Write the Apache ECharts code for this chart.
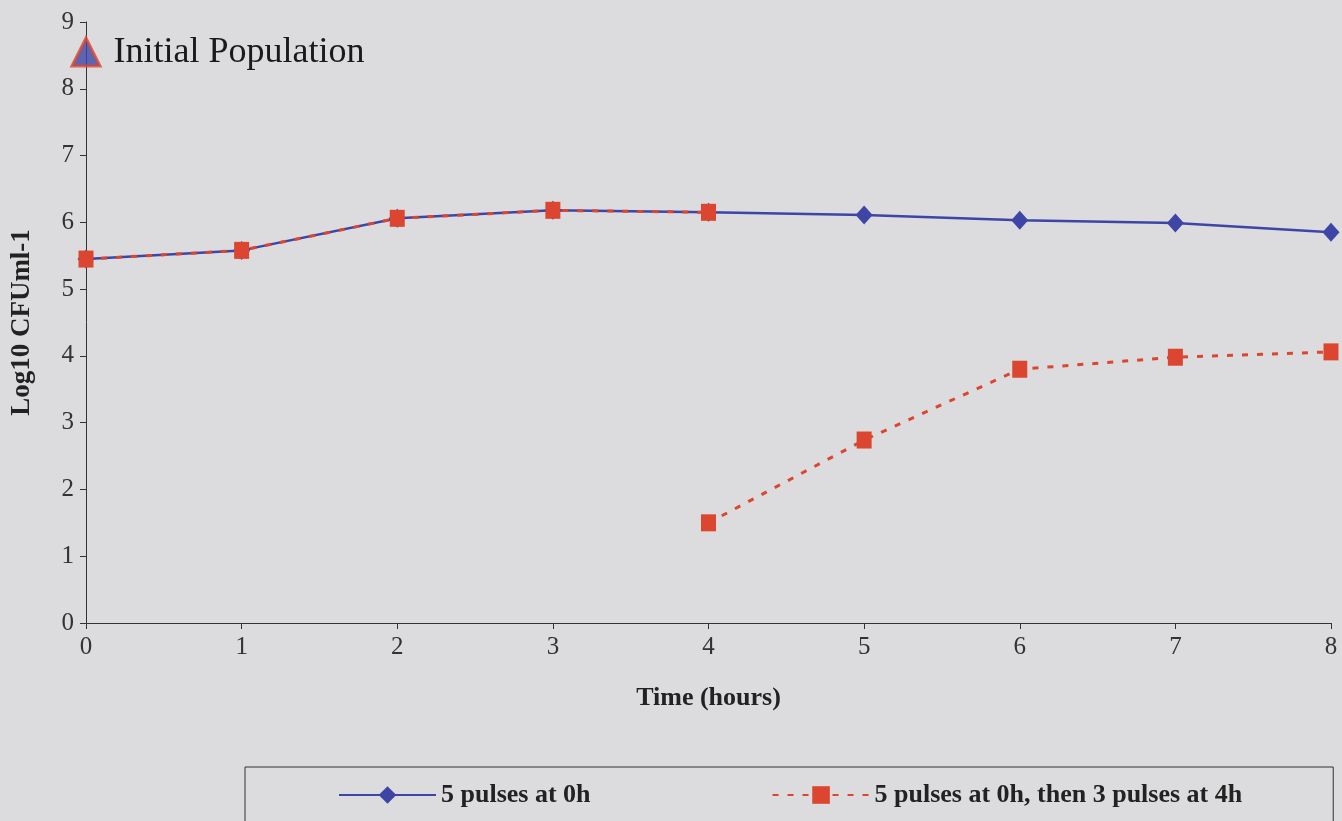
<!DOCTYPE html>
<html>
<head>
<meta charset="utf-8">
<script src="https://cdn.jsdelivr.net/npm/echarts@6/dist/echarts.min.js"></script>
<style>
	html, body { margin: 0; padding: 0; background: #dcdbdd; }
	#chart { width: 1342px; height: 821px; }
</style>
</head>
<body>
<div id="chart"></div>
<script>
// hours on the x axis
var hours = [0, 1, 2, 3, 4, 5, 6, 7, 8];
// 5 pulses at 0h
var pulses5 = [5.45, 5.58, 6.06, 6.18, 6.15, 6.11, 6.03, 5.99, 5.85];
// 5 pulses at 0h, then 3 pulses at 4h (before and after the second dose)
var pulses53Before = [5.45, 5.58, 6.06, 6.18, 6.15];
var pulses53After = [1.50, 2.74, 3.80, 3.98, 4.06];
var initialPop = 8.55;
var seriesNames = ['5 pulses at 0h', '5 pulses at 0h, then 3 pulses at 4h'];

var blue = '#3d46a6';
var red = '#dc4630';
var serif = '"Liberation Serif", "DejaVu Serif", serif';

// red series: first part 0..4h, a break, then 4..8h
var redData = [];
for (var i = 0; i < pulses53Before.length; i++) {
	redData.push([hours[i], pulses53Before[i]]);
}
redData.push([4, '-']);
for (var j = 0; j < pulses53After.length; j++) {
	redData.push([hours[4 + j], pulses53After[j]]);
}

var blueData = [];
for (var k = 0; k < hours.length; k++) {
	blueData.push([hours[k], pulses5[k]]);
}

var myChart = echarts.init(document.getElementById('chart'));
var option = {
	backgroundColor: '#dcdbdd',
	animation: false,
	grid: {
		left: 86,
		right: 11,
		top: 22,
		bottom: 198
	},
	xAxis: {
		type: 'value',
		min: 0,
		max: 8,
		interval: 1,
		name: 'Time (hours)',
		nameLocation: 'middle',
		nameGap: 62,
		nameTextStyle: { fontFamily: serif, fontWeight: 'bold', fontSize: 26, color: '#222' },
		axisLine: { lineStyle: { color: '#333', width: 1 } },
		axisTick: { show: true, inside: false, length: 6, lineStyle: { color: '#333' } },
		axisLabel: { fontFamily: serif, fontSize: 25, color: '#333', margin: 12 },
		splitLine: { show: false }
	},
	yAxis: {
		type: 'value',
		min: 0,
		max: 9,
		interval: 1,
		name: 'Log10 CFUml-1',
		nameLocation: 'middle',
		nameGap: 50,
		nameTextStyle: { fontFamily: serif, fontWeight: 'bold', fontSize: 27, color: '#222' },
		axisLine: { show: true, lineStyle: { color: '#333', width: 1 } },
		axisTick: { show: true, inside: false, length: 6, lineStyle: { color: '#333' } },
		axisLabel: { fontFamily: serif, fontSize: 25, color: '#333', margin: 12 },
		splitLine: { show: false }
	},
	legend: {
		left: 245,
		top: 767,
		data: seriesNames,
		orient: 'horizontal',
		backgroundColor: 'transparent',
		borderColor: '#333',
		borderWidth: 1,
		borderRadius: 0,
		padding: [15, 91, 17, 93],
		itemGap: 181,
		itemWidth: 97,
		itemHeight: 22,
		textStyle: { fontFamily: serif, fontWeight: 'bold', fontSize: 26, color: '#222' }
	},
	series: [
		{
			name: seriesNames[0],
			type: 'line',
			data: blueData,
			symbol: 'diamond',
			symbolSize: [17, 19],
			itemStyle: { color: blue },
			lineStyle: { color: blue, width: 2.5 },
			z: 2
		},
		{
			name: seriesNames[1],
			type: 'line',
			data: redData,
			connectNulls: false,
			symbol: 'rect',
			symbolSize: [15, 17],
			itemStyle: { color: red },
			lineStyle: { color: red, width: 3, type: [6, 9] },
			z: 3
		},
		{
			name: 'Initial Population',
			type: 'scatter',
			data: [[0, initialPop]],
			symbol: 'triangle',
			symbolSize: 28,
			itemStyle: { color: blue, borderColor: red, borderWidth: 3 },
			label: {
				show: true,
				position: 'right',
				distance: 12,
				formatter: 'Initial Population',
				fontFamily: serif,
				fontSize: 36,
				color: '#1a1a1a',
				opacity: 1,
				textBorderWidth: 0
			},
			z: 5
		}
	]
};
myChart.setOption(option);
</script>
</body>
</html>
